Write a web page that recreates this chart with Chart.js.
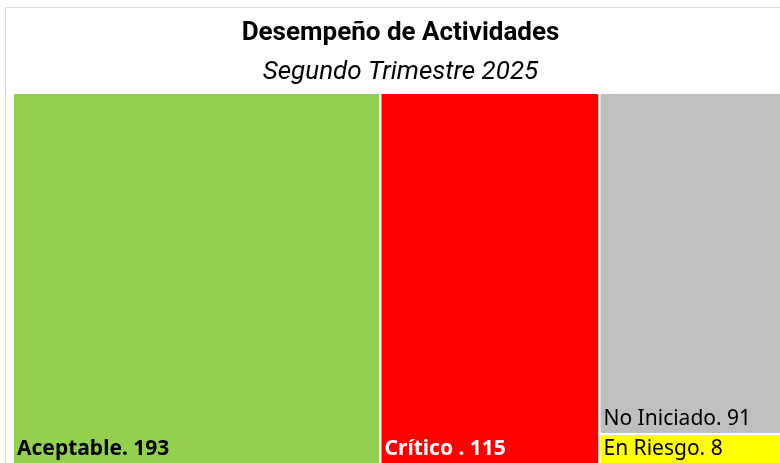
<!DOCTYPE html>
<html><head><meta charset="utf-8">
<script src="https://cdn.jsdelivr.net/npm/chart.js@4/dist/chart.umd.min.js"></script>
<style>html,body{margin:0;padding:0;background:#fff;overflow:hidden}#wrap{width:780px;height:463px;overflow:hidden}</style>
</head><body><div id="wrap"><canvas id="c" width="792" height="466"></canvas></div>
<script>
const categories = ['Aceptable', 'Crítico ', 'No Iniciado', 'En Riesgo'];
const values = [193, 115, 91, 8];
const colors = ['#92d050', '#ff0000', '#bfbfbf', '#ffff00'];
const labelColors = ['#000000', '#ffffff', '#000000', '#000000'];
const labelWeights = ['bold', 'bold', 'normal', 'normal'];

const total = values.reduce((a, b) => a + b, 0);
// Layout in data units: first two items as full-height columns, the rest stacked in the last column
function layout() {
  const rects = [];
  let x = 0;
  const restSum = values.slice(2).reduce((a, b) => a + b, 0);
  values.forEach((v, i) => {
    if (i < 2) { rects.push({x0: x, x1: x + v, y0: 0, y1: 1}); x += v; }
  });
  let y = 1;
  values.slice(2).forEach(v => {
    const h = v / restSum;
    rects.push({x0: x, x1: x + restSum, y0: y - h, y1: y});
    y -= h;
  });
  return rects;
}

const treemapPlugin = {
  id: 'treemap',
  beforeDraw(chart) {
    const ctx = chart.ctx;
    ctx.save();
    ctx.strokeStyle = '#d9d9d9';
    ctx.lineWidth = 1;
    ctx.strokeRect(5.5, 7.5, 900, 600);
    ctx.restore();
  },
  afterDatasetsDraw(chart) {
    const ctx = chart.ctx, xs = chart.scales.x, ys = chart.scales.y;
    const rects = layout();
    ctx.save();
    rects.forEach((r, i) => {
      const l = xs.getPixelForValue(r.x0), rr = xs.getPixelForValue(r.x1);
      const t = ys.getPixelForValue(r.y1), b = ys.getPixelForValue(r.y0);
      ctx.fillStyle = colors[i];
      ctx.fillRect(l, t, rr - l, b - t);
      ctx.strokeStyle = '#ffffff';
      ctx.lineWidth = 2;
      ctx.strokeRect(l, t, rr - l, b - t);
      ctx.fillStyle = labelColors[i];
      ctx.font = labelWeights[i] + ' 21px "Noto Sans", "Open Sans", sans-serif';
      ctx.textBaseline = 'alphabetic';
      ctx.textAlign = 'left';
      ctx.fillText(categories[i] + '. ' + values[i], l + 4, b - 9);
    });
    ctx.restore();
  }
};

new Chart(document.getElementById('c'), {
  type: 'scatter',
  data: { datasets: [{ data: [], pointRadius: 0 }] },
  options: {
    responsive: false,
    animation: false,
    layout: { padding: { left: 13, right: 4, top: 8, bottom: 2 } },
    scales: {
      x: { type: 'linear', display: false, min: 0, max: total },
      y: { type: 'linear', display: false, min: 0, max: 1 }
    },
    plugins: {
      legend: { display: false },
      tooltip: { enabled: false },
      title: { display: true, text: 'Desempeño de Actividades', color: '#000',
        font: { family: 'Roboto, sans-serif', size: 26, weight: 'bold' },
        padding: { top: 9.4, bottom: 4 } },
      subtitle: { display: true, text: 'Segundo Trimestre 2025', color: '#000',
        font: { family: 'Roboto, sans-serif', size: 26, style: 'italic', weight: 'normal' },
        padding: { top: 3.8, bottom: 5.4 } }
    }
  },
  plugins: [treemapPlugin]
});
</script></body></html>
